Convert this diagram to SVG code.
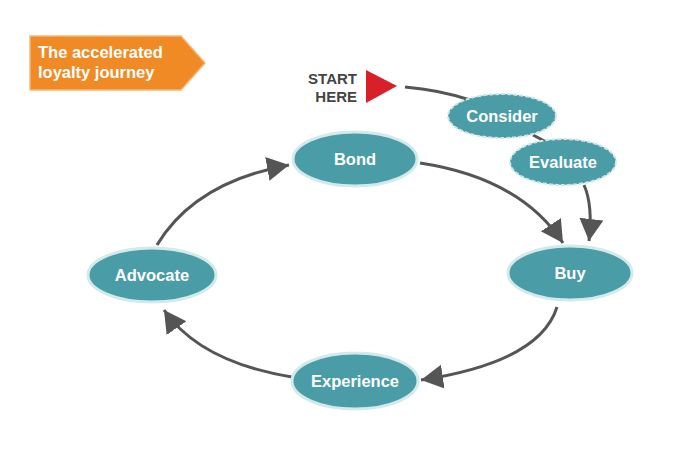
<svg xmlns="http://www.w3.org/2000/svg" width="675" height="450" viewBox="0 0 675 450">
<style>
.node ellipse{fill:#4a9ca6;stroke:#d3eaec;stroke-width:3}
.dash ellipse{fill:#4a9ca6;stroke:#cfe6e8;stroke-width:2;stroke-dasharray:4 2}
.lbl{font-family:"Liberation Sans",Arial,sans-serif;font-weight:bold;font-size:16.5px;fill:#ffffff;text-anchor:middle}
.conn path{fill:none;stroke:#555555;stroke-width:3}
.start{font-family:"Liberation Sans",Arial,sans-serif;font-weight:bold;font-size:15px;fill:#444444;text-anchor:end}
</style>
<defs>
<marker id="ah" markerUnits="userSpaceOnUse" markerWidth="26" markerHeight="26" refX="22" refY="12" orient="auto">
<path d="M0,0 L22,12 L0,24 Z" fill="#555555"/>
</marker>
</defs>
<rect width="675" height="450" fill="#ffffff"/>
<g id="title">
<path d="M30,36 L181,36 L205,63 L181,90 L30,90 Z" fill="#f08a24" stroke="#f6b778" stroke-width="1.5"/>
<text x="38" y="58" font-family="'Liberation Sans',Arial,sans-serif" font-weight="bold" font-size="16.5" fill="#ffffff">The accelerated</text>
<text x="38" y="78" font-family="'Liberation Sans',Arial,sans-serif" font-weight="bold" font-size="16.5" fill="#ffffff">loyalty journey</text>
</g>
<g id="start">
<text class="start" x="357" y="84">START</text>
<text class="start" x="357" y="102">HERE</text>
<path d="M366,70 L397,86 L366,103 Z" fill="#d7202a"/>
</g>
<g class="conn" id="connectors">
<path d="M405,87 Q440,90 470,100"/>
<path d="M533,135 L550,144"/>
<path d="M584,185 Q593,205 589,241" marker-end="url(#ah)"/>
<path d="M420,163 Q520,178 563,243" marker-end="url(#ah)"/>
<path d="M557,307 Q540,362 421,380" marker-end="url(#ah)"/>
<path d="M292,377 Q200,362 164,310" marker-end="url(#ah)"/>
<path d="M157,245 Q195,182 289,165" marker-end="url(#ah)"/>
</g>
<g id="consider" class="dash">
<ellipse cx="502" cy="116" rx="54" ry="22"/>
<text class="lbl" x="502" y="122">Consider</text>
</g>
<g id="evaluate" class="dash">
<ellipse cx="563" cy="162" rx="53" ry="23"/>
<text class="lbl" x="563" y="168">Evaluate</text>
</g>
<g id="bond" class="node">
<ellipse cx="355" cy="159" rx="62" ry="27"/>
<text class="lbl" x="355" y="165">Bond</text>
</g>
<g id="buy" class="node">
<ellipse cx="570" cy="273" rx="62" ry="27"/>
<text class="lbl" x="570" y="279">Buy</text>
</g>
<g id="advocate" class="node">
<ellipse cx="152" cy="275" rx="64" ry="27"/>
<text class="lbl" x="152" y="281">Advocate</text>
</g>
<g id="experience" class="node">
<ellipse cx="355" cy="381" rx="63" ry="28"/>
<text class="lbl" x="355" y="387">Experience</text>
</g>
</svg>
